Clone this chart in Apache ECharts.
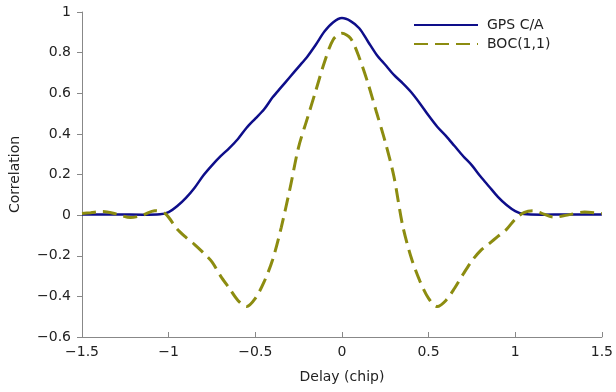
<!DOCTYPE html>
<html>
<head>
<meta charset="utf-8">
<script src="https://cdn.jsdelivr.net/npm/echarts@6/dist/echarts.min.js"></script>
<style>html,body{margin:0;padding:0;background:#fff;}#c{width:616px;height:392px;}</style>
</head>
<body>
<div id="c"></div>
<script>
var seriesNames = ['GPS C/A', 'BOC(1,1)'];
var xTicks = [-1.5, -1, -0.5, 0, 0.5, 1, 1.5];
var yTicks = [-0.6, -0.4, -0.2, 0, 0.2, 0.4, 0.6, 0.8, 1];

var gpsX = [-1.5,-1.3,-1.15,-1.05,-1.0,-0.95,-0.9,-0.85,-0.8,-0.75,-0.7,-0.65,-0.6,-0.55,-0.5,-0.45,-0.4,-0.35,-0.3,-0.25,-0.2,-0.15,-0.1,-0.05,0,
            0.05,0.1,0.15,0.2,0.25,0.3,0.35,0.4,0.45,0.5,0.55,0.6,0.65,0.7,0.75,0.8,0.85,0.9,0.95,1.0,1.05,1.15,1.3,1.5];
var gpsY = [0.003,0.003,0.002,0.004,0.015,0.045,0.085,0.135,0.195,0.245,0.29,0.33,0.375,0.43,0.475,0.52,0.58,0.63,0.68,0.73,0.78,0.84,0.905,0.95,0.97,
            0.955,0.92,0.855,0.79,0.74,0.69,0.65,0.605,0.55,0.49,0.435,0.39,0.34,0.29,0.245,0.19,0.14,0.09,0.05,0.02,0.005,0.002,0.003,0.003];

var bocX = [-1.5,-1.45,-1.38,-1.3,-1.22,-1.15,-1.08,-1.02,-0.95,-0.9,-0.85,-0.8,-0.75,-0.7,-0.65,-0.6,-0.55,-0.5,-0.45,-0.4,-0.35,-0.3,-0.25,-0.2,-0.15,-0.1,-0.05,0,
            0.05,0.1,0.15,0.2,0.25,0.3,0.35,0.4,0.45,0.5,0.55,0.6,0.65,0.7,0.75,0.8,0.85,0.9,0.95,1.0,1.05,1.1,1.15,1.22,1.3,1.4,1.5];
var bocY = [0.008,0.012,0.018,0.005,-0.012,0.0,0.022,0.008,-0.07,-0.11,-0.145,-0.185,-0.23,-0.3,-0.36,-0.42,-0.45,-0.41,-0.33,-0.22,-0.06,0.13,0.335,0.475,0.615,0.755,0.865,0.895,
            0.87,0.775,0.65,0.505,0.36,0.19,-0.05,-0.21,-0.325,-0.41,-0.45,-0.42,-0.36,-0.29,-0.225,-0.175,-0.14,-0.105,-0.07,-0.02,0.012,0.022,0.01,-0.01,0.0,0.015,0.008];

function pairs(xs, ys) { return xs.map(function (x, i) { return [x, ys[i]]; }); }
function fmt(v) { var s = String(Math.round(v * 10) / 10); return s.replace('-', '\u2212'); }

var font = 'DejaVu Sans';
var chart = echarts.init(document.getElementById('c'), null, { renderer: 'canvas' });
chart.setOption({
  animation: false,
  backgroundColor: '#fff',
  grid: { left: 81, right: 13, top: 12, bottom: 55, containLabel: false },
  legend: {
    left: 413, top: 18, orient: 'vertical', itemWidth: 64, itemHeight: 14, itemGap: 5, padding: 0,
    itemStyle: { opacity: 0 },
    textStyle: { fontFamily: font, fontSize: 14, color: '#222', padding: [0, 0, 0, 4] },
    data: seriesNames
  },
  xAxis: {
    type: 'value', min: -1.5, max: 1.5, interval: 0.5,
    name: 'Delay (chip)', nameLocation: 'middle', nameGap: 33,
    nameTextStyle: { fontFamily: font, fontSize: 14, color: '#222' },
    axisLine: { show: true, onZero: false, lineStyle: { color: '#888', width: 1 } },
    axisTick: { show: true, inside: true, length: 5, lineStyle: { color: '#888' } },
    axisLabel: { fontFamily: font, fontSize: 14, color: '#222', margin: 8, formatter: fmt },
    splitLine: { show: false }
  },
  yAxis: {
    type: 'value', min: -0.6, max: 1, interval: 0.2,
    name: 'Correlation', nameLocation: 'middle', nameGap: 60,
    nameTextStyle: { fontFamily: font, fontSize: 14, color: '#222' },
    axisLine: { show: true, onZero: false, lineStyle: { color: '#888', width: 1 } },
    axisTick: { show: true, inside: false, length: 5, lineStyle: { color: '#888' } },
    axisLabel: { fontFamily: font, fontSize: 14, color: '#222', margin: 11, formatter: fmt },
    splitLine: { show: false }
  },
  series: [
    { name: seriesNames[0], type: 'line', data: pairs(gpsX, gpsY), smooth: 0.3, symbol: 'none',
      lineStyle: { color: '#0e0e8a', width: 2.5 }, itemStyle: { color: '#0e0e8a' }, z: 2 },
    { name: seriesNames[1], type: 'line', data: pairs(bocX, bocY), smooth: 0.3, symbol: 'none',
      lineStyle: { color: '#8c8c10', width: 3, type: [14, 7] }, itemStyle: { color: '#8c8c10' }, z: 3 }
  ]
});
</script>
</body>
</html>
